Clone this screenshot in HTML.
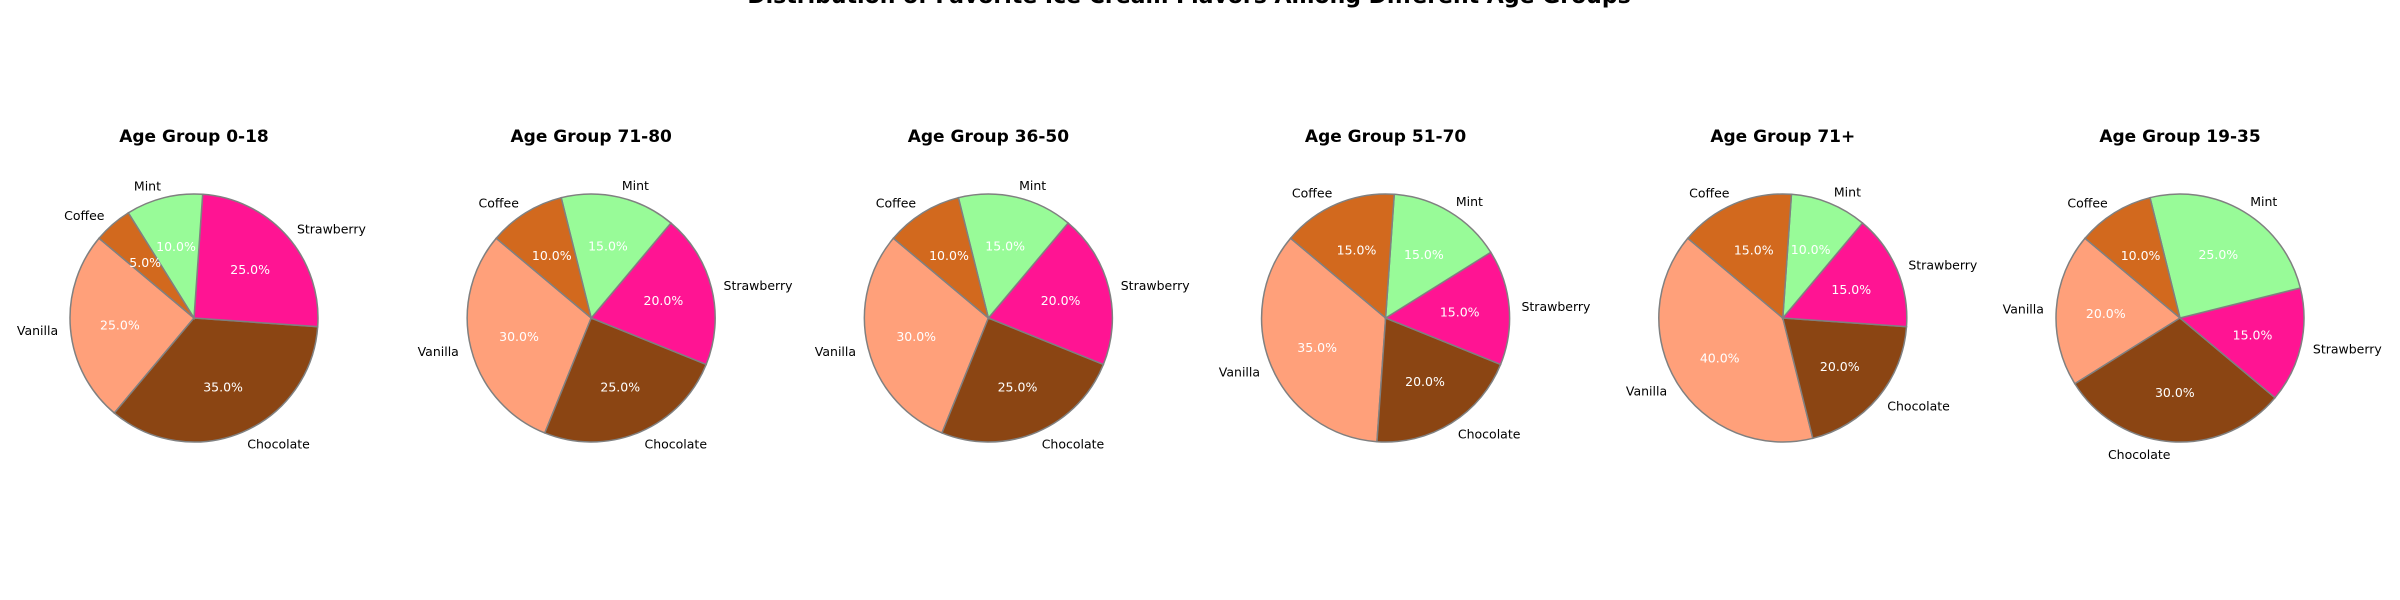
<!DOCTYPE html>
<html><head><meta charset="utf-8"><style>
html,body{margin:0;padding:0;background:#fff;}
svg{display:block;font-family:"DejaVu Sans","Liberation Sans",sans-serif;}
</style></head><body>
<svg id="chart" width="2400" height="600" viewBox="0 0 2400 600" xmlns="http://www.w3.org/2000/svg">
<rect width="2400" height="600" fill="#fff"/>
<text x="1189" y="3" text-anchor="middle" font-size="22" font-weight="bold">Distribution of Favorite Ice Cream Flavors Among Different Age Groups</text>
<g id="pies"></g>
</svg>
<script>
const groups = ["Age Group 0-18","Age Group 71-80","Age Group 36-50","Age Group 51-70","Age Group 71+","Age Group 19-35"];
const flavors = ["Vanilla","Chocolate","Strawberry","Mint","Coffee"];
const vanilla = [25,30,30,35,40,20];
const chocolate = [35,25,25,20,20,30];
const strawberry = [25,20,20,15,15,15];
const mint = [10,15,15,15,10,25];
const coffee = [5,10,10,15,15,10];
const colors = ["#FFA07A","#8B4513","#FF1493","#98FB98","#D2691E"];
const series = [vanilla,chocolate,strawberry,mint,coffee];
const startAngle = 140;
const R = 124, cy = 318, x0 = 194, dx = 397.2;
const ns = "http://www.w3.org/2000/svg";
const root = document.getElementById('pies');
function mk(tag, attrs){const e=document.createElementNS(ns,tag);for(const k in attrs)e.setAttribute(k,attrs[k]);return e;}
groups.forEach((g,gi)=>{
  const cx = x0 + gi*dx;
  const grp = mk('g',{});
  
  
  root.appendChild(grp);
  const t = mk('text',{x:cx,y:142,'text-anchor':'middle','font-size':17,'font-weight':'bold'});
  t.textContent = g;
  
  
  grp.appendChild(t);
  const vals = series.map(s=>s[gi]);
  const total = vals.reduce((a,b)=>a+b,0);
  let a = startAngle;
  vals.forEach((v,i)=>{
    const sweep = v/total*360;
    const a1 = a*Math.PI/180, a2=(a+sweep)*Math.PI/180;
    const p1=[cx+R*Math.cos(a1), cy-R*Math.sin(a1)];
    const p2=[cx+R*Math.cos(a2), cy-R*Math.sin(a2)];
    const large = sweep>180?1:0;
    const path = mk('path',{d:`M${cx},${cy} L${p1[0]},${p1[1]} A${R},${R} 0 ${large} 0 ${p2[0]},${p2[1]} Z`,fill:colors[i],stroke:'#808080','stroke-width':1.5});
    
    
    grp.appendChild(path);
    const mid = (a+sweep/2)*Math.PI/180;
    const lx = cx+1.1*R*Math.cos(mid), ly = cy-1.1*R*Math.sin(mid);
    const lab = mk('text',{x:lx,y:ly+5,'font-size':12.5,'text-anchor':Math.cos(mid)>0?'start':'end'});
    lab.textContent = flavors[i];
    
    
    grp.appendChild(lab);
    a += sweep;
  });
  a = startAngle;
  vals.forEach((v,i)=>{
    const sweep = v/total*360;
    const mid = (a+sweep/2)*Math.PI/180;
    const px = cx+0.6*R*Math.cos(mid), py = cy-0.6*R*Math.sin(mid);
    const pt = mk('text',{x:px,y:py+5,'font-size':12.5,'text-anchor':'middle',fill:'#fff'});
    pt.textContent = (v/total*100).toFixed(1)+'%';
    
    
    grp.appendChild(pt);
    a += sweep;
  });
});
</script>
</body></html>
